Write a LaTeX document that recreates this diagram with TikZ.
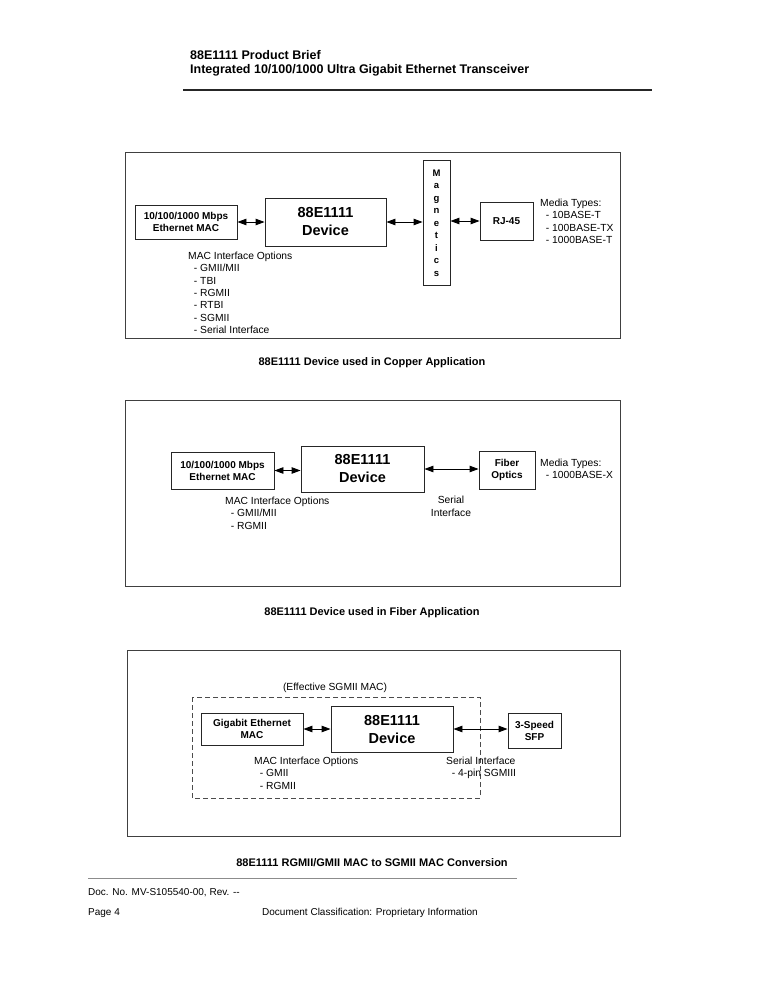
\documentclass[tikz,border=0pt]{standalone}
\usepackage{fontspec}
\setmainfont{Liberation Sans}
\usetikzlibrary{arrows.meta}
\begin{document}
\begin{tikzpicture}[x=1pt,y=-1pt,
  blk/.style={draw=black!85,line width=0.9pt,inner sep=0pt,align=center,font=\fontsize{10}{12}\selectfont\bfseries},
  devbox/.style={draw=black!85,line width=0.9pt,inner sep=0pt,align=center,font=\fontsize{14.5}{18}\selectfont\bfseries},
  frame/.style={draw=black!75,line width=0.8pt},
  lbl/.style={inner sep=0pt,align=left,anchor=north west,font=\fontsize{10.3}{12.3}\selectfont},
  clbl/.style={inner sep=0pt,align=center,anchor=north,font=\fontsize{10.3}{12.6}\selectfont},
  captxt/.style={inner sep=0pt,font=\fontsize{11}{13}\selectfont\bfseries},
  biarrow/.style={line width=0.9pt,{Triangle[length=9pt,width=6.5pt]}-{Triangle[length=9pt,width=6.5pt]}}
]
\useasboundingbox (0,0) rectangle (765,990);
\fill[white] (0,0) rectangle (765,990);

% header
\node[inner sep=0pt,anchor=west,font=\fontsize{12.5}{15}\selectfont\bfseries] (h1) at (190,55) {88E1111 Product Brief};
\node[inner sep=0pt,anchor=west,font=\fontsize{12.5}{15}\selectfont\bfseries] (h2) at (190,70) {Integrated 10/100/1000 Ultra Gigabit Ethernet Transceiver};
\draw[line width=1.8pt,black!85] (183,90) -- (652,90);

% ---------- panel 1 ----------
\draw[frame] (125,152) rectangle (620,338);
\node[blk,minimum width=102pt,minimum height=34pt] (mac1) at (186,222) {10/100/1000 Mbps\\Ethernet MAC};
\node[devbox,minimum width=121pt,minimum height=48pt] (dev1) at (325.5,222) {88E1111\\Device};
\node[blk,minimum width=27pt,minimum height=125pt,font=\fontsize{9.5}{12.5}\selectfont\bfseries] (mag) at (436.5,223) {M\\a\\g\\n\\e\\t\\i\\c\\s};
\node[blk,minimum width=53pt,minimum height=38pt] (rj) at (506.5,221) {RJ-45};
\draw[biarrow] (mac1.east) -- (mac1.east -| dev1.west);
\draw[biarrow] (dev1.east) -- (dev1.east -| mag.west);
\draw[biarrow] (mag.east |- rj.west) -- (rj.west);
\node[lbl] (mt1) at (540,199) {Media Types:\\\ \ - 10BASE-T\\\ \ - 100BASE-TX\\\ \ - 1000BASE-T};
\node[lbl] (mio1) at (188,252) {MAC Interface Options\\\ \ - GMII/MII\\\ \ - TBI\\\ \ - RGMII\\\ \ - RTBI\\\ \ - SGMII\\\ \ - Serial Interface};
\node[captxt] (cap1) at (372,363) {88E1111 Device used in Copper Application};

% ---------- panel 2 ----------
\draw[frame] (125,400) rectangle (620,586);
\node[blk,minimum width=103pt,minimum height=37pt] (mac2) at (222.5,470.5) {10/100/1000 Mbps\\Ethernet MAC};
\node[devbox,minimum width=123pt,minimum height=46pt] (dev2) at (362.5,469) {88E1111\\Device};
\node[blk,minimum width=56pt,minimum height=38pt] (fo) at (507,470) {Fiber\\Optics};
\draw[biarrow] (mac2.east) -- (mac2.east -| dev2.west);
\draw[biarrow] (dev2.east) -- (dev2.east -| fo.west);
\node[lbl] (mt2) at (540,459) {Media Types:\\\ \ - 1000BASE-X};
\node[lbl] (mio2) at (225,497) {MAC Interface Options\\\ \ - GMII/MII\\\ \ - RGMII};
\node[clbl] (si2) at (451,496) {Serial\\Interface};
\node[captxt] (cap2) at (372,613) {88E1111 Device used in Fiber Application};

% ---------- panel 3 ----------
\draw[frame] (127,650) rectangle (620,836);
\draw[black!70,line width=0.8pt,dash pattern=on 5pt off 3pt] (192,697) rectangle (480,798);
\node[inner sep=0pt,font=\fontsize{10.3}{12}\selectfont] (eff) at (335,688) {(Effective SGMII MAC)};
\node[blk,minimum width=102pt,minimum height=32pt] (mac3) at (252,729) {Gigabit Ethernet\\MAC};
\node[devbox,minimum width=122pt,minimum height=46pt] (dev3) at (392,729) {88E1111\\Device};
\node[blk,minimum width=53pt,minimum height=35pt] (sfp) at (534.5,730.5) {3-Speed\\SFP};
\draw[biarrow] (mac3.east) -- (mac3.east -| dev3.west);
\draw[biarrow] (dev3.east) -- (dev3.east -| sfp.west);
\node[lbl] (mio3) at (254,757) {MAC Interface Options\\\ \ - GMII\\\ \ - RGMII};
\node[lbl] (si3) at (446,757) {Serial Interface\\\ \ - 4-pin SGMIII};
\node[captxt] (cap3) at (372,863) {88E1111 RGMII/GMII MAC to SGMII MAC Conversion};

% footer
\draw[black!45,line width=0.8pt] (88,878) -- (517,878);
\node[inner sep=0pt,anchor=west,font=\fontsize{10}{12}\selectfont] (f1) at (88,893) {Doc. No. MV-S105540-00, Rev. {-}{-}};
\node[inner sep=0pt,anchor=west,font=\fontsize{10}{12}\selectfont] (f2) at (88,913) {Page 4};
\node[inner sep=0pt,anchor=west,font=\fontsize{10}{12}\selectfont] (f3) at (262,913) {Document Classification: Proprietary Information};
\end{tikzpicture}
\end{document}
